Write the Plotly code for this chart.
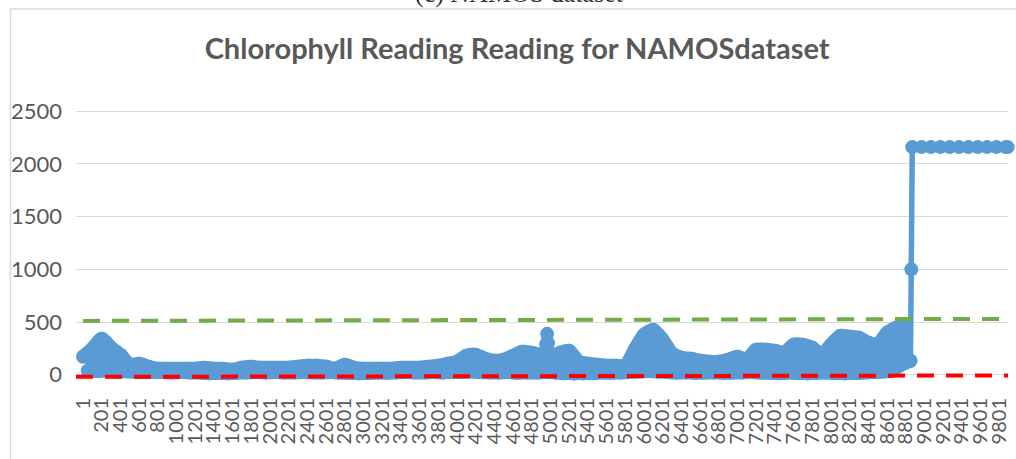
import plotly.graph_objects as go

# ---------------- data ----------------
# upper envelope of the dense blob, one reading every 100 categories (1, 101, ... 8801)
hi_vals = [170, 246, 341, 256, 189, 95, 104, 76, 57, 57,
           57, 57, 57, 66, 57, 57, 47, 66, 76, 66,
           66, 66, 66, 76, 85, 85, 76, 57, 95, 66,
           57, 57, 57, 57, 66, 66, 66, 76, 85, 104,
           123, 180, 189, 152, 133, 142, 180, 218, 208, 189,
           170, 208, 227, 123, 104, 95, 85, 85, 85, 237,
           379, 426, 331, 199, 161, 152, 133, 123, 123, 142,
           170, 142, 237, 237, 227, 208, 284, 284, 256, 189,
           284, 369, 360, 350, 303, 284, 398, 445, 473]
# lower envelope of the blob, one reading every 100 categories (51, 151, ... 8851)
lo_vals = [38, 35, 40, 30, 32, 28, 25, 28, 25, 22,
           25, 22, 20, 12, 18, 12, 20, 22, 25, 22,
           25, 22, 20, 25, 22, 20, 25, 20, 18, 12,
           15, 20, 18, 22, 25, 22, 20, 25, 22, 28,
           25, 30, 25, 22, 20, 25, 18, 22, 20, 25,
           22, 12, 10, 12, 15, 20, 18, 22, 25, 30,
           35, 30, 25, 20, 22, 18, 20, 22, 18, 20,
           22, 25, 20, 18, 15, 20, 15, 12, 18, 20,
           15, 12, 15, 20, 25, 30, 40, 95, 132]
# narrow spike near category 5000
spike_idx = [4945, 4955, 4965, 4975, 4985]
spike_vals = [170, 290, 388, 300, 170]
# jump at the end of the record
tail_idx = [8851, 8860, 8870, 8970, 9070, 9170, 9270, 9370, 9470, 9570, 9670, 9770, 9870, 9890]
tail_vals = [132, 1000, 2160, 2160, 2160, 2160, 2160, 2160, 2160, 2160, 2160, 2160, 2160, 2160]

# threshold lines (end points)
upper_x = [1, 9894]
upper_vals = [511, 530]
lower_x = [-74, 9894]
lower_vals = [-20, -7]

tick_vals = list(range(1, 9802, 200))
tick_labels = [str(v) for v in tick_vals]
y_ticks = [0, 500, 1000, 1500, 2000, 2500]

hi_idx = list(range(1, 8802, 100))
lo_idx = list(range(51, 8852, 100))

# closed outline of the dense band: upper edge forward, lower edge back
band_x = hi_idx + lo_idx[::-1]
band_y = hi_vals + lo_vals[::-1]

BLUE = '#5B9BD5'
GRAY = '#595959'
FONT = 'Lato'

fig = go.Figure()
fig.add_trace(go.Scatter(x=band_x, y=band_y, mode='lines', fill='toself',
                         fillcolor=BLUE, line=dict(color=BLUE, width=3),
                         showlegend=False, hoverinfo='skip'))
fig.add_trace(go.Scatter(x=lo_idx, y=lo_vals, mode='lines+markers',
                         line=dict(color=BLUE, width=14, shape='spline', smoothing=0.6),
                         marker=dict(size=14, color=BLUE, line=dict(width=0)),
                         cliponaxis=False, showlegend=False, hoverinfo='skip'))
fig.add_trace(go.Scatter(x=hi_idx, y=hi_vals, mode='lines+markers',
                         line=dict(color=BLUE, width=14, shape='spline', smoothing=0.6),
                         marker=dict(size=14, color=BLUE, line=dict(width=0)),
                         cliponaxis=False, showlegend=False, hoverinfo='skip'))
fig.add_trace(go.Scatter(x=spike_idx, y=spike_vals, mode='lines+markers',
                         line=dict(color=BLUE, width=11),
                         marker=dict(size=14, color=BLUE, line=dict(width=0)),
                         cliponaxis=False, showlegend=False, hoverinfo='skip'))
# jump and plateau
fig.add_trace(go.Scatter(x=tail_idx, y=tail_vals, mode='lines+markers',
                         line=dict(color=BLUE, width=5.5),
                         marker=dict(size=14, color=BLUE, line=dict(width=0)),
                         cliponaxis=False, showlegend=False, hoverinfo='skip'))
fig.add_trace(go.Scatter(x=upper_x, y=upper_vals, mode='lines',
                         line=dict(color='#70AD47', width=4, dash='17px,12px'),
                         showlegend=False, hoverinfo='skip'))
fig.add_trace(go.Scatter(x=lower_x, y=lower_vals, mode='lines',
                         line=dict(color='#FF0000', width=4, dash='17px,12px'),
                         showlegend=False, hoverinfo='skip'))

L, R = 76, 8
T, B = 105.7, 78.7
W, H = 1016, 459
pw = W - L - R
ph = H - T - B


def px_to_paper_x(px):
    return (px - L) / pw


def px_to_paper_y(py):
    return 1 + (T - py) / ph


fig.update_layout(
    width=W, height=H,
    margin=dict(l=L, r=R, t=T, b=B, pad=0, autoexpand=False),
    paper_bgcolor='white', plot_bgcolor='white',
    title=dict(text='<b>Chlorophyll Reading Reading for NAMOSdataset</b>',
               x=0.509, xref='container', xanchor='center',
               y=1 - 48.5 / H, yref='container', yanchor='middle',
               font=dict(family=FONT, size=29, color=GRAY)),
    xaxis=dict(range=[-73.9, 9894], tickmode='array', tickvals=tick_vals,
               ticktext=tick_labels, tickangle=-90, showgrid=False,
               zeroline=False, showline=False, ticks='', automargin=False,
               ticklabelstandoff=13,
               tickfont=dict(family=FONT, size=20, color=GRAY)),
    yaxis=dict(range=[-50, 2550], tickmode='array', tickvals=y_ticks,
               showgrid=True, gridcolor='#D9D9D9', gridwidth=1.3,
               zeroline=False, showline=False, ticks='', automargin=False,
               ticklabelstandoff=13,
               tickfont=dict(family=FONT, size=22, color=GRAY)),
    shapes=[dict(type='rect', xref='paper', yref='paper',
                 x0=px_to_paper_x(10.5), x1=px_to_paper_x(1100),
                 y0=px_to_paper_y(600), y1=px_to_paper_y(8.5),
                 line=dict(color='#D9D9D9', width=1.5), fillcolor='rgba(0,0,0,0)',
                 layer='below')],
    annotations=[dict(text='(c) NAMOS dataset', xref='paper', yref='paper',
                      x=px_to_paper_x(519), y=px_to_paper_y(9), xanchor='center',
                      yanchor='bottom', showarrow=False,
                      font=dict(family='Liberation Serif', size=26, color='#333333'))],
)

fig.write_html('out.html', config={'displayModeBar': False},
               post_script="document.body.style.margin='0';")
